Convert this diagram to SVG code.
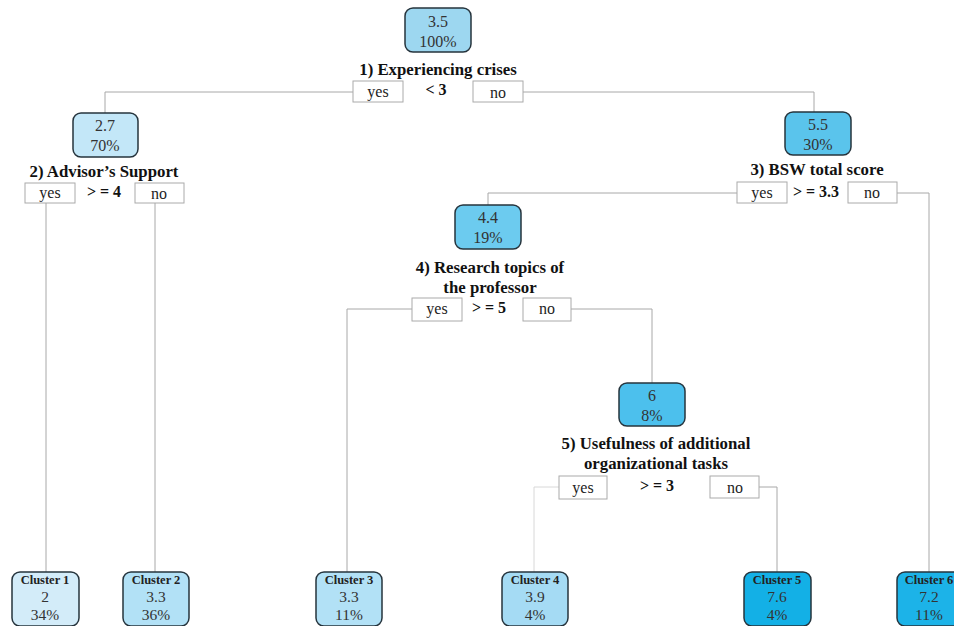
<svg xmlns="http://www.w3.org/2000/svg" width="954" height="626" viewBox="0 0 954 626">
<style>
.bg{fill:#ffffff}
.node{stroke:#26343d;stroke-width:1.5}
text{font-family:"Liberation Serif","Times New Roman","DejaVu Serif",serif}
.val{font-size:16px;fill:#333;text-anchor:middle}
.cval{font-size:15.5px;fill:#333;text-anchor:middle}
.clab{font-size:12.5px;font-weight:bold;fill:#222;text-anchor:middle}
.split{font-size:16.8px;font-weight:bold;fill:#111;text-anchor:middle}
.lbl{fill:#fff;stroke:#aaa;stroke-width:1}
.lt{font-size:16px;fill:#222;text-anchor:middle}
.op{font-size:16px;font-weight:bold;fill:#111;text-anchor:middle}
.edge{fill:none;stroke:#a8a8a8;stroke-width:1}
.edge2{fill:none;stroke:#d8d8d8;stroke-width:1}
</style>
<rect class="bg" x="0" y="0" width="954" height="626"/>
<g id="connectors">
<polyline class="edge" points="353,92 105,92 105,113"/>
<polyline class="edge" points="523,92 814,92 814,112"/>
<line class="edge" x1="46" y1="203" x2="46" y2="572"/>
<line class="edge" x1="155" y1="203" x2="155" y2="572"/>
<polyline class="edge" points="737,193 488,193 488,205"/>
<polyline class="edge" points="897,193 929,193 929,572"/>
<polyline class="edge" points="412,309 347,309 347,572"/>
<polyline class="edge" points="571,309 652,309 652,383"/>
<polyline class="edge2" points="559,487 534,487 534,572"/>
<polyline class="edge" points="759,487 777,487 777,572"/>
</g>
<g id="n1">
<rect class="node" x="405" y="8" width="66" height="44" rx="8" fill="#9dd7f0"/>
<text class="val" x="438" y="27">3.5</text>
<text class="val" x="438" y="47">100%</text>
<text class="split" x="438" y="75">1) Experiencing crises</text>
<rect class="lbl" x="353" y="81" width="50" height="21"/>
<text class="lt" x="378" y="97">yes</text>
<text class="op" x="436" y="95">&lt; 3</text>
<rect class="lbl" x="473" y="81" width="50" height="21"/>
<text class="lt" x="498" y="98">no</text>
</g>
<g id="n2">
<rect class="node" x="73" y="113" width="65" height="44" rx="8" fill="#c3e7f8"/>
<text class="val" x="105" y="131">2.7</text>
<text class="val" x="105" y="151">70%</text>
<text class="split" x="104" y="177">2) Advisor’s Support</text>
<rect class="lbl" x="25" y="183" width="50" height="20"/>
<text class="lt" x="50" y="198">yes</text>
<text class="op" x="104" y="197">&gt; = 4</text>
<rect class="lbl" x="135" y="183" width="49" height="20"/>
<text class="lt" x="159" y="199">no</text>
</g>
<g id="n3">
<rect class="node" x="785" y="112" width="66" height="43" rx="8" fill="#5ac4ec"/>
<text class="val" x="818" y="130">5.5</text>
<text class="val" x="818" y="150">30%</text>
<text class="split" x="817" y="175">3) BSW total score</text>
<rect class="lbl" x="737" y="182" width="50" height="21"/>
<text class="lt" x="762" y="198">yes</text>
<text class="op" x="816" y="197">&gt; = 3.3</text>
<rect class="lbl" x="848" y="182" width="49" height="21"/>
<text class="lt" x="872" y="198">no</text>
</g>
<g id="n4">
<rect class="node" x="455" y="205" width="66" height="44" rx="8" fill="#6ccbef"/>
<text class="val" x="488" y="223">4.4</text>
<text class="val" x="488" y="243">19%</text>
<text class="split" x="490" y="273">4) Research topics of</text>
<text class="split" x="490" y="293">the professor</text>
<rect class="lbl" x="412" y="298" width="50" height="23"/>
<text class="lt" x="437" y="314">yes</text>
<text class="op" x="489" y="313">&gt; = 5</text>
<rect class="lbl" x="523" y="298" width="48" height="23"/>
<text class="lt" x="547" y="314">no</text>
</g>
<g id="n5">
<rect class="node" x="619" y="383" width="66" height="43" rx="8" fill="#4cc0ed"/>
<text class="val" x="652" y="401">6</text>
<text class="val" x="652" y="421">8%</text>
<text class="split" x="656" y="449">5) Usefulness of additional</text>
<text class="split" x="656" y="469">organizational tasks</text>
<rect class="lbl" x="559" y="476" width="48" height="23"/>
<text class="lt" x="583" y="493">yes</text>
<text class="op" x="657" y="491">&gt; = 3</text>
<rect class="lbl" x="710" y="476" width="49" height="22"/>
<text class="lt" x="735" y="493">no</text>
</g>
<g id="c1">
<rect class="node" x="12" y="572" width="67" height="54" rx="8" fill="#d3ecf9"/>
<text class="clab" x="45" y="584">Cluster 1</text>
<text class="cval" x="45" y="602">2</text>
<text class="cval" x="45" y="620">34%</text>
</g>
<g id="c2">
<rect class="node" x="123" y="572" width="66" height="54" rx="8" fill="#b2e1f6"/>
<text class="clab" x="156" y="584">Cluster 2</text>
<text class="cval" x="156" y="602">3.3</text>
<text class="cval" x="156" y="620">36%</text>
</g>
<g id="c3">
<rect class="node" x="316" y="572" width="66" height="54" rx="8" fill="#b2e1f6"/>
<text class="clab" x="349" y="584">Cluster 3</text>
<text class="cval" x="349" y="602">3.3</text>
<text class="cval" x="349" y="620">11%</text>
</g>
<g id="c4">
<rect class="node" x="502" y="572" width="66" height="54" rx="8" fill="#a5dbf4"/>
<text class="clab" x="535" y="584">Cluster 4</text>
<text class="cval" x="535" y="602">3.9</text>
<text class="cval" x="535" y="620">4%</text>
</g>
<g id="c5">
<rect class="node" x="744" y="572" width="67" height="54" rx="8" fill="#13b0e6"/>
<text class="clab" x="777" y="584">Cluster 5</text>
<text class="cval" x="777" y="602">7.6</text>
<text class="cval" x="777" y="620">4%</text>
</g>
<g id="c6">
<rect class="node" x="897" y="572" width="67" height="54" rx="8" fill="#1cb3e8"/>
<text class="clab" x="929" y="584">Cluster 6</text>
<text class="cval" x="929" y="602">7.2</text>
<text class="cval" x="929" y="620">11%</text>
</g>
</svg>
